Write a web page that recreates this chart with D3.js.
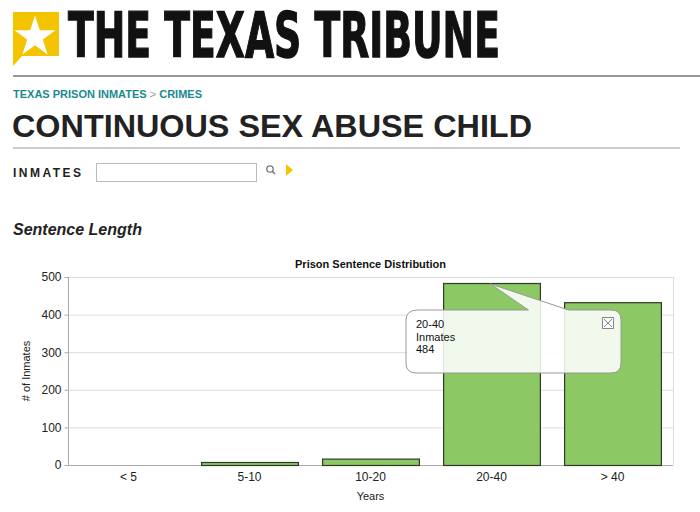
<!DOCTYPE html><html><head><meta charset="utf-8"><script src="https://cdn.jsdelivr.net/npm/d3@7"></script>
<style>body{margin:0;background:#fff}</style></head><body><svg id="c" width="700" height="512"></svg>
<script>
const categories = ["< 5","5-10","10-20","20-40","> 40"];
const inmates = [0, 8, 17, 484, 433];
const yTicks = [0,100,200,300,400,500];
const svg = d3.select("#c");
const F = "Liberation Sans, Arial, sans-serif";
// header
svg.append("path").attr("d","M13,12H59V56H22L13,66Z").attr("fill","#f5c400");
const star = d3.symbol().type(d3.symbolStar).size(520)();
svg.append("path").attr("d",star).attr("transform","translate(35,37)").attr("fill","#fff");
svg.append("text").attr("transform","translate(68,57)scale(1,1.28)").attr("font-family","DejaVu Sans Condensed, sans-serif").attr("font-weight","bold")
 .attr("font-size",48).attr("textLength",432).attr("lengthAdjust","spacingAndGlyphs").attr("fill","#111").attr("stroke","#111").attr("stroke-width",1).text("THE TEXAS TRIBUNE");
svg.append("line").attr("x1",13).attr("x2",700).attr("y1",76).attr("y2",76).attr("stroke","#333").attr("stroke-width",1.2);
const bc = svg.append("text").attr("x",13).attr("y",98).attr("font-family",F).attr("font-weight","bold").attr("font-size",11).attr("fill","#1a8a8f");
bc.append("tspan").text("TEXAS PRISON INMATES ");bc.append("tspan").attr("fill","#999").attr("font-weight","normal").text(">");bc.append("tspan").text(" CRIMES");
svg.append("text").attr("x",12).attr("y",137).attr("font-family",F).attr("font-weight","bold").attr("font-size",31).attr("textLength",520).attr("lengthAdjust","spacingAndGlyphs").attr("fill","#222").text("CONTINUOUS SEX ABUSE CHILD");
svg.append("line").attr("x1",13).attr("x2",680).attr("y1",148).attr("y2",148).attr("stroke","#999");
svg.append("text").attr("x",13).attr("y",177).attr("font-family",F).attr("font-weight","bold").attr("font-size",12).attr("letter-spacing",2.5).attr("fill","#222").text("INMATES");
svg.append("rect").attr("x",96.5).attr("y",163.5).attr("width",160).attr("height",18).attr("fill","#fff").attr("stroke","#bbb");
svg.append("circle").attr("cx",270).attr("cy",169).attr("r",3.2).attr("fill","none").attr("stroke","#777").attr("stroke-width",1.3);
svg.append("line").attr("x1",272).attr("y1",171).attr("x2",275).attr("y2",174).attr("stroke","#777").attr("stroke-width",1.5);
svg.append("path").attr("d","M286,164L293,170L286,176Z").attr("fill","#f5c400");
svg.append("text").attr("x",13).attr("y",235).attr("font-family",F).attr("font-weight","bold").attr("font-style","italic").attr("font-size",16).attr("fill","#222").text("Sentence Length");
// chart
const L=68,R=673,T=277,B=465;
const x=d3.scaleBand().domain(categories).range([L,R]).paddingInner(0.2).paddingOuter(0.1);
const y=d3.scaleLinear().domain([0,500]).range([B,T]);
const g=svg.append("g");
g.selectAll(".gr").data(yTicks).join("line").attr("x1",L).attr("x2",R).attr("y1",d=>y(d)+.5).attr("y2",d=>y(d)+.5).attr("stroke","#ddd");
g.append("line").attr("x1",R+.5).attr("x2",R+.5).attr("y1",T).attr("y2",B).attr("stroke","#ddd");
g.append("line").attr("x1",L+.5).attr("x2",L+.5).attr("y1",T).attr("y2",B).attr("stroke","#aaa");
g.append("line").attr("x1",L).attr("x2",R).attr("y1",B+.5).attr("y2",B+.5).attr("stroke","#aaa");
const ya=d3.axisLeft(y).tickValues(yTicks).tickSize(4).tickPadding(3);
const ag=svg.append("g").attr("transform",`translate(${L+.5},0)`).call(ya);
ag.select(".domain").remove();ag.selectAll("line").attr("stroke","#aaa");
ag.selectAll("text").attr("font-family",F).attr("font-size",12).attr("fill","#222");
const xa=d3.axisBottom(x).tickSize(0).tickPadding(7);
const xg=svg.append("g").attr("transform",`translate(0,${B})`).call(xa);
xg.select(".domain").remove();xg.selectAll("text").attr("font-family",F).attr("font-size",12).attr("fill","#222");
svg.append("g").selectAll("rect").data(inmates).join("rect").attr("x",(d,i)=>x(categories[i])+.5).attr("width",x.bandwidth())
 .attr("y",d=>y(d)+.5).attr("height",d=>B-y(d)).attr("fill",d=>d?"#8cc864":"none").attr("stroke",d=>d?"#2e3b26":"none").attr("stroke-width",1.2);
svg.append("text").attr("x",(L+R)/2).attr("y",268).attr("text-anchor","middle").attr("font-family",F).attr("font-weight","bold").attr("font-size",11).attr("fill","#111").text("Prison Sentence Distribution");
svg.append("text").attr("x",(L+R)/2).attr("y",500).attr("text-anchor","middle").attr("font-family",F).attr("font-size",11).attr("fill","#222").text("Years");
svg.append("text").attr("transform","translate(30,371)rotate(-90)").attr("text-anchor","middle").attr("font-family",F).attr("font-size",11).attr("fill","#222").text("# of Inmates");
// tooltip
const px=x("20-40")+x.bandwidth()/2-1, py=y(484)+1;
const tt=svg.append("g");
tt.append("path").attr("d",`M418,310H${px+38}L${px},${py}L${px+78},310H611Q621,310 621,320V363Q621,373 611,373H416Q406,373 406,363V320Q406,310 418,310Z`)
 .attr("fill","rgba(255,255,255,0.88)").attr("stroke","#999");
["20-40","Inmates","484"].forEach((t,i)=>tt.append("text").attr("x",416).attr("y",328+i*12.5).attr("font-family",F).attr("font-size",11).attr("fill","#111").text(t));
tt.append("rect").attr("x",602.5).attr("y",317.5).attr("width",11).attr("height",11).attr("fill","#fff").attr("stroke","#888");
tt.append("path").attr("d","M604,319L612,327M612,319L604,327").attr("stroke","#888");
</script></body></html>
